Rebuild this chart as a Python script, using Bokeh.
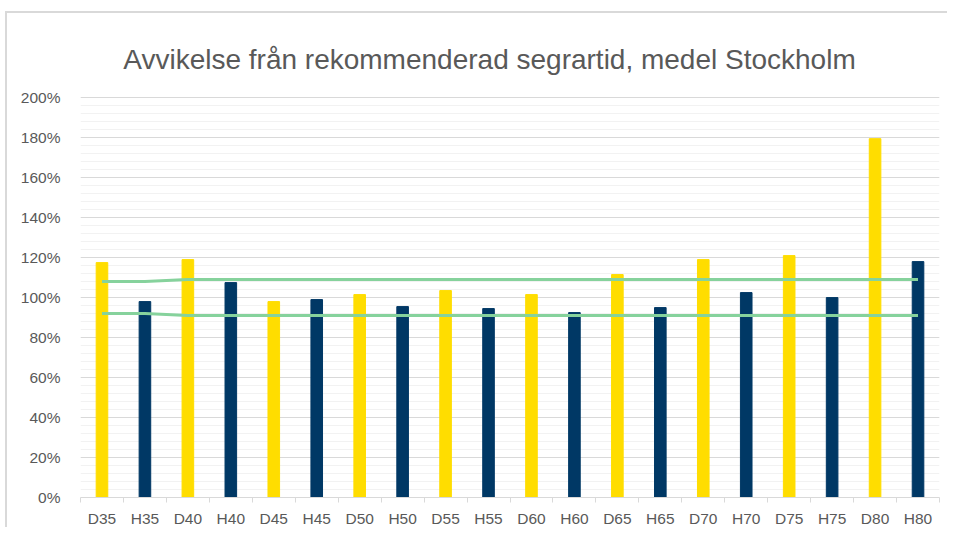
from bokeh.plotting import figure
from bokeh.models import FixedTicker, PrintfTickFormatter, Range1d, ColumnDataSource, Label
from bokeh.embed import file_html
from bokeh.resources import INLINE

title_text = "Avvikelse från rekommenderad segrartid, medel Stockholm"
categories = ["D35", "H35", "D40", "H40", "D45", "H45", "D50", "H50", "D55", "H55",
              "D60", "H60", "D65", "H65", "D70", "H70", "D75", "H75", "D80", "H80"]
values = [117.5, 98, 119, 107.5, 98, 99, 101.5, 95.5, 103.5, 94.5,
          101.5, 92.5, 111.5, 95, 119, 102.5, 121, 100, 179.5, 118]
upper_limit = [108, 108, 109, 109, 109, 109, 109, 109, 109, 109,
               109, 109, 109, 109, 109, 109, 109, 109, 109, 109]
lower_limit = [92, 92, 91, 91, 91, 91, 91, 91, 91, 91,
               91, 91, 91, 91, 91, 91, 91, 91, 91, 91]
y_ticks = [0, 20, 40, 60, 80, 100, 120, 140, 160, 180, 200]
y_minor_ticks = list(range(0, 201, 4))

YELLOW = "#FFDD00"
NAVY = "#003865"
GREEN = "#86D29C"
TEXT = "#595959"
GRID = "#D9D9D9"

xs = list(range(len(categories)))
colors = [YELLOW if c.startswith("D") else NAVY for c in categories]
src = ColumnDataSource(dict(x=xs, top=values, color=colors, up=upper_limit, lo=lower_limit))

# frame extends above 200% so that the title lives inside the canvas area
p = figure(width=942, height=516, output_backend="svg", toolbar_location=None,
           x_range=Range1d(-0.5, len(categories) - 0.5), y_range=Range1d(0, 242.1),
           min_border_left=73, min_border_right=10, min_border_top=0, min_border_bottom=31)
p.styles = {"border-top": "2px solid #D9D9D9", "border-left": "2px solid #D9D9D9",
            "margin-top": "11px", "margin-left": "5px"}
p.outline_line_color = None
p.background_fill_color = "white"
p.border_fill_color = "white"

p.add_layout(Label(x=409, y=219, x_units="screen", y_units="data", text=title_text,
                   text_font="Liberation Sans", text_font_size="28px", text_color=TEXT,
                   text_align="center", text_baseline="alphabetic"))

p.vbar(x="x", top="top", width=0.27, color="color", source=src)
p.line(x="x", y="up", line_color=GREEN, line_width=3, source=src)
p.line(x="x", y="lo", line_color=GREEN, line_width=3, source=src)

# x axis
p.xaxis.ticker = FixedTicker(ticks=xs, minor_ticks=[i - 0.5 for i in range(len(categories) + 1)])
p.xaxis.major_label_overrides = {i: c for i, c in enumerate(categories)}
p.xaxis.major_tick_line_color = None
p.xaxis.minor_tick_line_color = GRID
p.xaxis.minor_tick_out = 5
p.xaxis.minor_tick_in = 0
p.xaxis.axis_line_color = GRID
p.xaxis.major_label_text_font = "Liberation Sans"
p.xaxis.major_label_text_font_size = "15.5px"
p.xaxis.major_label_text_color = TEXT
p.xaxis.major_label_standoff = 6
p.xgrid.grid_line_color = None

# y axis
yticker = FixedTicker(ticks=y_ticks, minor_ticks=y_minor_ticks)
p.yaxis.ticker = yticker
p.ygrid.ticker = yticker
p.yaxis.formatter = PrintfTickFormatter(format="%d%%")
p.yaxis.axis_line_color = None
p.yaxis.major_tick_line_color = None
p.yaxis.minor_tick_line_color = None
p.yaxis.major_label_text_font = "Liberation Sans"
p.yaxis.major_label_text_font_size = "15.5px"
p.yaxis.major_label_text_color = TEXT
p.yaxis.major_label_standoff = 14
p.ygrid.grid_line_color = GRID
p.ygrid.minor_grid_line_color = "#F2F2F2"

open("out.html", "w").write(file_html(p, INLINE))
